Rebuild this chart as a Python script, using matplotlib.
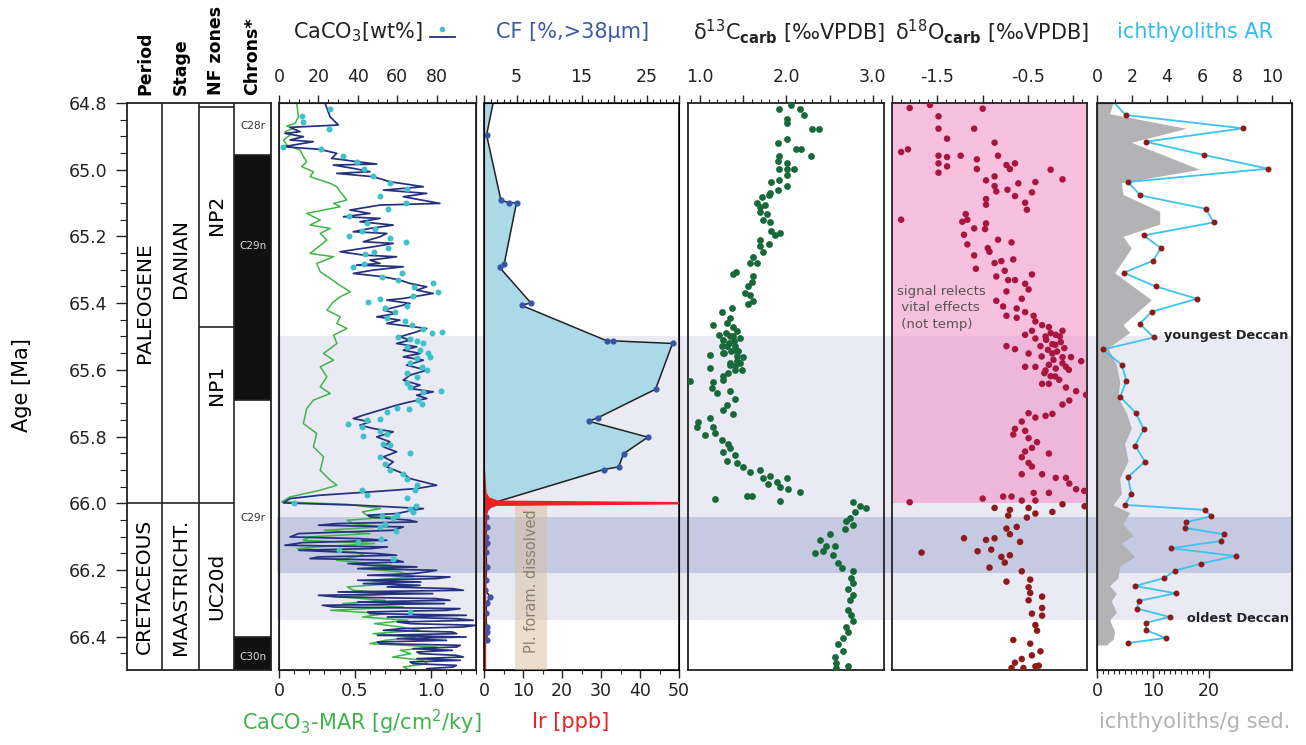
import numpy as np
import matplotlib.pyplot as plt
from matplotlib.ticker import FixedLocator, FixedFormatter
from matplotlib.lines import Line2D

plt.rcParams['font.family'] = ['DejaVu Sans']
plt.rcParams['mathtext.fontset'] = 'dejavusans'

W, H = 1306, 745
TOP, BOT = 103, 670
AGE_MIN, AGE_MAX = 64.8, 66.5

# ---------------- data (age [Ma], value) ----------------
# CaCO3 wt% high resolution (navy line)
navy = [(64.801, 23.4), (64.841, 25.9), (64.866, 30.1), (64.873, 5.6), (64.886, 10.7), (64.891, 3.0),
        (64.901, 12.4), (64.911, 5.6), (64.916, 17.4), (64.931, 2.2), (64.939, 20.8), (64.951, 29.3),
        (64.966, 26.7), (64.971, 33.5), (64.976, 39.4), (64.983, 49.6), (64.986, 27.6), (64.996, 37.7),
        (65.006, 46.2), (65.011, 29.3), (65.021, 47.9), (65.036, 56.3), (65.051, 73.3), (65.061, 53.0),
        (65.071, 75.0), (65.081, 63.1), (65.101, 81.7), (65.106, 51.3), (65.121, 36.0), (65.131, 46.2),
        (65.141, 32.7), (65.146, 51.3), (65.156, 41.1), (65.166, 58.0), (65.176, 46.2), (65.186, 37.7),
        (65.191, 54.7), (65.201, 51.3), (65.216, 42.8), (65.221, 58.0), (65.231, 47.9), (65.246, 31.0),
        (65.256, 42.8), (65.261, 59.7), (65.271, 46.2), (65.281, 51.3), (65.286, 39.4), (65.291, 63.1),
        (65.301, 47.9), (65.311, 37.7), (65.321, 53.0), (65.331, 61.4), (65.341, 66.5), (65.351, 75.0),
        (65.361, 69.9), (65.371, 78.3), (65.381, 68.2), (65.386, 63.1), (65.391, 54.7), (65.401, 66.5),
        (65.421, 53.0), (65.431, 59.7), (65.441, 49.6), (65.451, 61.4), (65.461, 54.7), (65.471, 68.2),
        (65.476, 75.0), (65.486, 69.9), (65.501, 61.4), (65.511, 66.5), (65.521, 59.7), (65.531, 69.9),
        (65.541, 63.1), (65.551, 71.6), (65.561, 63.1), (65.571, 73.3), (65.586, 64.8), (65.601, 75.0),
        (65.616, 66.5), (65.631, 63.1), (65.646, 71.6), (65.656, 66.5), (65.666, 78.3), (65.676, 69.9),
        (65.686, 75.0), (65.696, 66.5), (65.706, 59.7), (65.721, 51.3), (65.736, 42.8), (65.746, 37.7),
        (65.756, 46.2), (65.766, 41.1), (65.776, 47.9), (65.786, 58.0), (65.801, 49.6), (65.816, 56.3),
        (65.831, 53.0), (65.846, 59.7), (65.861, 53.0), (65.876, 58.0), (65.891, 54.7), (65.911, 63.1),
        (65.926, 66.5), (65.936, 73.3), (65.946, 80.0), (65.956, 69.9), (65.966, 46.2), (65.976, 20.8),
        (65.986, 5.6), (65.999, 2.2), (66.006, 40.0), (66.016, 73.3), (66.021, 68.0), (66.031, 59.7),
        (66.036, 45.0), (66.041, 46.2), (66.051, 66.5), (66.056, 70.0), (66.061, 29.3), (66.066, 20.0),
        (66.071, 63.1), (66.081, 58.0), (66.091, 10.0), (66.101, 5.6), (66.106, 40.0), (66.111, 54.7),
        (66.118, 12.0), (66.126, 3.0), (66.131, 55.0), (66.136, 46.2), (66.141, 10.0), (66.146, 29.3),
        (66.151, 50.0), (66.156, 59.7), (66.161, 20.0), (66.166, 15.7), (66.171, 60.0), (66.176, 63.1),
        (66.181, 35.0), (66.186, 46.2), (66.191, 70.0), (66.196, 40.0), (66.201, 80.0), (66.206, 75.0),
        (66.211, 68.2), (66.216, 45.0), (66.221, 86.8), (66.226, 80.0), (66.231, 40.0), (66.236, 72.0),
        (66.241, 42.8), (66.246, 71.6), (66.251, 55.0), (66.256, 88.0), (66.261, 93.6), (66.266, 30.0),
        (66.271, 78.0), (66.276, 20.0), (66.281, 29.3), (66.286, 80.0), (66.291, 86.8), (66.296, 40.0),
        (66.301, 84.0), (66.306, 22.0), (66.311, 27.6), (66.316, 91.9), (66.321, 85.0), (66.326, 45.0),
        (66.331, 46.2), (66.336, 95.0), (66.341, 55.0), (66.346, 90.0), (66.351, 98.6), (66.356, 60.0),
        (66.361, 66.5), (66.366, 100.0), (66.371, 93.6), (66.376, 62.0), (66.381, 53.0), (66.386, 88.0),
        (66.391, 90.2), (66.396, 50.0), (66.401, 95.0), (66.406, 60.0), (66.411, 85.0), (66.416, 50.0),
        (66.421, 51.3), (66.426, 92.0), (66.431, 90.2), (66.436, 68.0), (66.441, 88.0), (66.446, 70.0),
        (66.451, 71.6), (66.456, 90.0), (66.461, 93.6), (66.466, 70.0), (66.471, 92.0), (66.476, 66.5),
        (66.481, 68.0), (66.486, 90.0), (66.491, 88.5), (66.496, 75.0), (66.501, 76.6)]

# CaCO3 wt% discrete samples (cyan dots)
cyan = [(64.818, 25.9), (64.838, 11.8), (64.858, 12.4), (64.878, 25.5), (64.931, 2.2), (64.939, 21.2),
        (64.959, 32.7), (64.978, 39.8), (64.999, 43.3), (65.019, 47.9), (65.039, 56.3), (65.059, 64.8),
        (65.079, 51.3), (65.101, 64.5), (65.119, 55.5), (65.139, 35.7), (65.159, 44.5), (65.183, 42.0),
        (65.179, 48.7), (65.206, 56.3), (65.198, 35.7), (65.217, 64.5), (65.236, 55.5), (65.246, 48.2),
        (65.253, 43.7), (65.291, 37.7), (65.283, 43.3), (65.321, 52.1), (65.311, 62.3), (65.331, 60.4),
        (65.351, 68.7), (65.339, 78.3), (65.378, 68.2), (65.368, 80.5), (65.396, 45.0), (65.389, 51.3),
        (65.408, 64.8), (65.416, 53.8), (65.426, 58.9), (65.446, 54.7), (65.453, 64.0), (65.466, 67.3),
        (65.479, 73.3), (65.491, 77.5), (65.487, 82.6), (65.503, 60.4), (65.509, 66.5), (65.513, 69.9),
        (65.521, 73.3), (65.531, 64.8), (65.541, 71.6), (65.551, 75.8), (65.566, 69.9), (65.561, 76.6),
        (65.581, 66.5), (65.591, 72.4), (65.601, 75.0), (65.611, 64.8), (65.621, 69.9), (65.641, 64.8),
        (65.651, 66.5), (65.666, 73.3), (65.663, 82.1), (65.691, 70.7), (65.703, 72.4), (65.716, 66.2),
        (65.713, 59.7), (65.726, 54.7), (65.746, 51.3), (65.751, 44.5), (65.763, 35.2), (65.771, 42.0),
        (65.798, 42.8), (65.783, 51.3), (65.791, 54.7), (65.821, 53.0), (65.826, 56.3), (65.861, 51.3),
        (65.881, 53.8), (65.901, 56.3), (65.849, 66.5), (65.911, 63.1), (65.926, 64.8), (65.946, 69.9),
        (65.961, 69.0), (65.959, 42.0), (65.976, 44.8), (65.983, 64.8), (65.999, 7.6), (66.009, 69.4),
        (66.016, 66.5), (66.026, 67.9), (66.036, 59.7), (66.039, 52.1), (66.043, 58.0), (66.061, 53.8),
        (66.071, 51.3), (66.083, 59.4), (66.106, 51.6), (66.116, 40.3), (66.139, 30.6), (66.166, 57.7),
        (66.326, 66.5)]

# CaCO3 mass accumulation rate (green line)
mar = [(64.801, 0.117), (64.841, 0.128), (64.861, 0.106), (64.869, 0.051), (64.876, 0.095), (64.886, 0.040),
       (64.896, 0.073), (64.911, 0.029), (64.926, 0.051), (64.941, 0.139), (64.961, 0.161), (64.976, 0.183),
       (64.991, 0.150), (65.006, 0.227), (65.021, 0.205), (65.031, 0.272), (65.041, 0.338), (65.051, 0.382),
       (65.066, 0.404), (65.091, 0.448), (65.101, 0.360), (65.111, 0.404), (65.131, 0.183), (65.151, 0.272),
       (65.166, 0.205), (65.176, 0.338), (65.191, 0.272), (65.211, 0.316), (65.251, 0.205), (65.261, 0.360),
       (65.281, 0.249), (65.306, 0.272), (65.326, 0.338), (65.341, 0.382), (65.366, 0.470), (65.381, 0.404),
       (65.396, 0.360), (65.421, 0.316), (65.441, 0.404), (65.461, 0.382), (65.476, 0.448), (65.496, 0.360),
       (65.521, 0.382), (65.551, 0.294), (65.571, 0.360), (65.591, 0.272), (65.621, 0.316), (65.651, 0.272),
       (65.671, 0.338), (65.691, 0.227), (65.716, 0.183), (65.761, 0.161), (65.791, 0.249), (65.831, 0.227),
       (65.861, 0.294), (65.901, 0.272), (65.931, 0.338), (65.946, 0.382), (65.961, 0.272), (65.981, 0.073),
       (65.996, 0.018), (66.003, 0.45), (66.016, 0.67), (66.026, 0.55), (66.036, 0.58), (66.041, 0.74),
       (66.051, 0.45), (66.061, 0.49), (66.071, 0.67), (66.081, 0.30), (66.091, 0.60), (66.101, 0.20),
       (66.111, 0.16), (66.121, 0.63), (66.131, 0.25), (66.136, 0.12), (66.146, 0.50), (66.156, 0.56),
       (66.171, 0.38), (66.186, 0.74), (66.196, 0.55), (66.206, 0.80), (66.221, 0.89), (66.231, 0.60),
       (66.241, 0.75), (66.251, 0.45), (66.261, 0.49), (66.271, 0.80), (66.281, 0.40), (66.291, 0.70),
       (66.301, 0.42), (66.311, 0.82), (66.321, 0.34), (66.331, 0.70), (66.341, 0.55), (66.351, 0.85),
       (66.361, 0.63), (66.371, 0.80), (66.381, 0.93), (66.391, 0.62), (66.401, 0.90), (66.411, 0.70),
       (66.421, 0.60), (66.431, 1.04), (66.441, 0.80), (66.451, 0.87), (66.461, 0.75), (66.471, 0.95),
       (66.481, 0.98), (66.491, 0.82), (66.501, 0.87)]

# coarse fraction (CF %) and iridium
cf_age = [64.79, 64.896, 65.091, 65.099, 65.099, 65.283, 65.293, 65.399, 65.407, 65.513, 65.513, 65.521,
          65.658, 65.744, 65.754, 65.802, 65.851, 65.891, 65.899, 65.999, 66.01, 66.04, 66.07, 66.10,
          66.12, 66.146, 66.19, 66.23, 66.26, 66.28, 66.30, 66.33, 66.37, 66.385, 66.41]
cf_val = [1.5, 0.4, 2.6, 3.8, 5.0, 3.1, 2.4, 7.2, 5.8, 18.9, 19.8, 29.0,
          26.4, 17.5, 16.1, 25.2, 21.5, 20.7, 18.4, 1.4, 0.4, 0.3, 0.4, 0.3,
          0.5, 0.3, 0.4, 0.3, 0.2, 0.9, 0.4, 0.3, 0.4, 0.5, 0.4]
ir_age = [65.90, 65.97, 65.985, 65.995, 66.0, 66.005, 66.015, 66.04, 66.2, 66.5]
ir_val = [0.0, 0.4, 1.2, 3.5, 56.0, 3.0, 1.0, 0.4, 0.3, 0.3]

# d13C carb
d13c = [(64.817, 1.916), (64.806, 2.058), (64.817, 2.155), (64.837, 2.201), (64.849, 2.001), (64.860, 2.008),
        (64.877, 2.301), (64.877, 2.378), (64.907, 2.008), (64.919, 1.908), (64.939, 2.109), (64.939, 2.174),
        (64.958, 2.290), (64.958, 1.916), (64.975, 1.908), (64.981, 2.001), (64.998, 2.001), (64.998, 2.085),
        (64.998, 1.916), (65.015, 2.001), (65.032, 1.916), (65.037, 1.827), (65.049, 2.008), (65.060, 1.908),
        (65.071, 1.808), (65.082, 1.712), (65.077, 1.800), (65.099, 1.654), (65.111, 1.692), (65.105, 1.750),
        (65.128, 1.692), (65.133, 1.777), (65.150, 1.723), (65.156, 1.808), (65.184, 1.827), (65.190, 1.924),
        (65.195, 1.866), (65.212, 1.692), (65.229, 1.692), (65.224, 1.800), (65.246, 1.731), (65.263, 1.615),
        (65.280, 1.577), (65.280, 1.654), (65.308, 1.415), (65.314, 1.384), (65.320, 1.608), (65.337, 1.596),
        (65.348, 1.557), (65.370, 1.519), (65.376, 1.577), (65.393, 1.615), (65.404, 1.557), (65.416, 1.365),
        (65.427, 1.249), (65.444, 1.346), (65.466, 1.153), (65.461, 1.307), (65.472, 1.384), (65.495, 1.222),
        (65.500, 1.346), (65.483, 1.423), (65.512, 1.268), (65.506, 1.461), (65.529, 1.307), (65.540, 1.403),
        (65.551, 1.268), (65.563, 1.500), (65.574, 1.423), (65.585, 1.346), (65.602, 1.480), (65.557, 1.114),
        (65.596, 1.114), (65.602, 1.403), (65.619, 1.268), (65.636, 1.153), (65.653, 1.134), (65.630, 1.268),
        (65.664, 1.346), (65.670, 1.191), (65.687, 1.403), (65.704, 1.307), (65.721, 1.261), (65.732, 1.384),
        (65.743, 1.114), (65.755, 0.979), (65.771, 0.960), (65.771, 1.153), (65.794, 1.057), (65.788, 1.172),
        (65.811, 1.249), (65.822, 1.326), (65.845, 1.268), (65.834, 1.346), (65.856, 1.403), (65.873, 1.307),
        (65.879, 1.423), (65.890, 1.500), (65.907, 1.577), (65.901, 1.692), (65.924, 1.731), (65.918, 1.808),
        (65.941, 1.789), (65.935, 1.885), (65.952, 1.924), (65.924, 2.001), (65.958, 2.020), (65.992, 1.924),
        (65.967, 2.162), (65.978, 1.596), (65.978, 1.538), (65.986, 1.172), (65.633, 0.883),
        (65.490, 1.300), (65.500, 1.380), (65.520, 1.330), (65.530, 1.410), (65.545, 1.360), (65.550, 1.280),
        (65.560, 1.430), (65.580, 1.350), (65.590, 1.400), (65.610, 1.320), (65.580, 1.460), (65.530, 1.250),
        (65.515, 1.390), (65.545, 1.440),
        (65.997, 2.771), (66.009, 2.848), (66.014, 2.925), (66.026, 2.791), (66.043, 2.733), (66.054, 2.694),
        (66.065, 2.771), (66.076, 2.675), (66.093, 2.502), (66.110, 2.386), (66.127, 2.463), (66.127, 2.559),
        (66.144, 2.425), (66.148, 2.328), (66.156, 2.540), (66.178, 2.598), (66.193, 2.648), (66.204, 2.771),
        (66.223, 2.752), (66.240, 2.771), (66.257, 2.714), (66.274, 2.771), (66.291, 2.733), (66.319, 2.714),
        (66.336, 2.752), (66.353, 2.771), (66.370, 2.694), (66.387, 2.714), (66.404, 2.656), (66.421, 2.598),
        (66.444, 2.656), (66.461, 2.559), (66.478, 2.579), (66.489, 2.714), (66.494, 2.579)]

# d18O carb
d18o = [(64.815, -1.805), (64.806, -1.581), (64.817, -1.000), (64.840, -1.487), (64.877, -1.487), (64.877, -1.094),
        (64.907, -1.393), (64.919, -0.869), (64.947, -1.899), (64.939, -1.824), (64.958, -1.487), (64.962, -1.393),
        (64.958, -1.243), (64.969, -1.064), (64.958, -0.831), (64.981, -0.644), (64.986, -0.738), (64.998, -0.700),
        (64.981, -1.487), (64.990, -1.393), (65.009, -1.487), (64.998, -1.064), (65.000, -0.251), (65.029, -0.120),
        (65.032, -0.963), (65.020, -0.869), (65.041, -0.607), (65.037, -0.419), (65.049, -0.869), (65.065, -0.850),
        (65.060, -0.727), (65.079, -0.644), (65.068, -0.457), (65.088, -0.963), (65.105, -0.963), (65.099, -0.532),
        (65.120, -0.513), (65.150, -1.899), (65.133, -1.187), (65.150, -1.169), (65.156, -1.225), (65.161, -0.963),
        (65.178, -0.974), (65.176, -1.094), (65.195, -1.206), (65.224, -1.169), (65.210, -0.831), (65.218, -0.682),
        (65.235, -0.944), (65.246, -0.925), (65.257, -1.094), (65.280, -0.869), (65.274, -0.794), (65.269, -0.663),
        (65.303, -0.757), (65.297, -1.075), (65.320, -0.850), (65.331, -0.719), (65.331, -0.644), (65.314, -0.457),
        (65.342, -0.532), (65.365, -0.738), (65.359, -0.494), (65.387, -0.569), (65.393, -0.850), (65.410, -0.775),
        (65.416, -0.625), (65.427, -0.532), (65.438, -0.738), (65.444, -0.625), (65.438, -0.438), (65.455, -0.419),
        (65.466, -0.345), (65.472, -0.270), (65.483, -0.120), (65.483, -0.457), (65.506, -0.419), (65.500, -0.307),
        (65.495, -0.195), (65.495, -0.532), (65.529, -0.363), (65.523, -0.232), (65.517, -0.139), (65.529, -0.738),
        (65.538, -0.644), (65.551, -0.494), (65.551, -0.232), (65.562, -0.120), (65.562, -0.026), (65.574, 0.086),
        (65.591, -0.532), (65.591, -0.419), (65.602, -0.307), (65.596, -0.195), (65.591, -0.082), (65.619, -0.251),
        (65.630, -0.157), (65.642, -0.345), (65.642, -0.270), (65.653, -0.082), (65.664, 0.030), (65.675, 0.140),
        (65.692, -0.045), (65.704, -0.120), (65.732, -0.232), (65.738, -0.307), (65.730, -0.494), (65.743, -0.419),
        (65.755, -0.569), (65.777, -0.644), (65.794, -0.663), (65.783, -0.532), (65.805, -0.494), (65.817, -0.401),
        (65.834, -0.457), (65.845, -0.532), (65.851, -0.270), (65.862, -0.569), (65.879, -0.494), (65.890, -0.457),
        (65.913, -0.345), (65.913, -0.569), (65.924, -0.195), (65.924, -0.082), (65.941, -0.045), (65.958, 0.030),
        (65.963, 0.120), (65.969, -0.270), (65.969, -0.438), (65.992, -0.419), (65.992, -0.569), (65.980, -0.682),
        (65.980, -0.775), (65.986, -1.000), (65.997, -1.805),
        (65.490, -0.250), (65.500, -0.150), (65.510, -0.300), (65.525, -0.200), (65.535, -0.100), (65.540, -0.280),
        (65.545, -0.180), (65.560, -0.350), (65.570, -0.220), (65.580, -0.120), (65.585, -0.270), (65.600, -0.050),
        (65.610, -0.320), (65.620, -0.200),
        (66.003, -0.120), (66.009, 0.124), (66.026, -0.232), (66.014, -0.869), (66.020, -0.700), (66.014, -0.494),
        (66.031, -0.419), (66.043, -0.513), (66.037, -0.719), (66.076, -0.738), (66.093, -0.700), (66.071, -0.625),
        (66.116, -0.588), (66.105, -0.869), (66.110, -0.963), (66.105, -1.206), (66.144, -1.056), (66.139, -0.906),
        (66.161, -0.794), (66.156, -0.700), (66.148, -1.674), (66.178, -0.757), (66.193, -0.925), (66.204, -0.569),
        (66.235, -0.738), (66.229, -0.476), (66.252, -0.494), (66.269, -0.476), (66.280, -0.345), (66.291, -0.494),
        (66.331, -0.457), (66.314, -0.345), (66.337, -0.345), (66.365, -0.419), (66.382, -0.401), (66.410, -0.663),
        (66.421, -0.476), (66.444, -0.363), (66.456, -0.457), (66.467, -0.569), (66.478, -0.644), (66.494, -0.682),
        (66.494, -0.551), (66.489, -0.419), (66.487, -0.382)]

# ichthyolith accumulation rate and ichthyoliths per gram
ar_age = [64.800, 64.836, 64.876, 64.916, 64.956, 64.997, 65.037, 65.077, 65.117, 65.158, 65.197, 65.235,
          65.273, 65.309, 65.350, 65.387, 65.426, 65.462, 65.503, 65.539, 65.585, 65.633, 65.681, 65.729,
          65.778, 65.827, 65.875, 65.922, 65.971, 66.005, 66.020, 66.039, 66.057, 66.074, 66.093, 66.113,
          66.135, 66.158, 66.181, 66.202, 66.225, 66.248, 66.270, 66.293, 66.316, 66.341, 66.359, 66.381,
          66.404, 66.419]
ar_val = [1.0, 1.64, 8.34, 2.78, 6.13, 9.77, 1.77, 2.48, 6.21, 6.67, 2.67, 3.64,
          3.20, 1.52, 3.35, 5.71, 3.12, 2.44, 3.24, 0.34, 1.41, 1.68, 1.33, 2.21,
          2.67, 2.17, 2.74, 1.77, 1.96, 1.60, 6.17, 6.53, 5.07, 5.01, 7.24, 7.09,
          4.23, 7.92, 5.94, 4.46, 3.81, 2.17, 4.50, 2.38, 2.29, 4.15, 2.78, 2.82,
          3.92, 1.79]
ich_age = [64.800, 64.832, 64.876, 64.918, 64.999, 65.039, 65.074, 65.125, 65.163, 65.200, 65.235, 65.309,
           65.390, 65.465, 65.488, 65.534, 65.585, 65.637, 65.683, 65.729, 65.775, 65.821, 65.873, 65.925,
           65.971, 66.005, 66.028, 66.063, 66.097, 66.120, 66.160, 66.189, 66.224, 66.247, 66.270, 66.293,
           66.327, 66.350, 66.385, 66.408, 66.425]
ich_val = [2.86, 2.26, 15.95, 6.13, 18.33, 4.35, 4.64, 11.19, 11.19, 4.64, 6.13, 3.15,
           9.70, 4.64, 5.83, 1.96, 3.45, 4.05, 3.75, 5.24, 6.13, 4.94, 5.54, 4.05,
           4.35, 2.86, 5.83, 4.64, 6.43, 4.35, 6.73, 4.05, 3.75, 2.26, 3.45, 2.56,
           3.45, 2.26, 3.15, 2.86, 1.67]

# stratigraphy
period_names = ['PALEOGENE', 'CRETACEOUS']
period_label_age = [65.40, 66.25]
stage_names = ['DANIAN', 'MAASTRICHT.']
stage_label_age = [65.265, 66.25]
kpg = 66.0
nf_bounds = [64.8, 64.812, 65.472, 66.0, 66.5]
nf_names = ['NP2', 'NP1', 'UC20d']
nf_label_age = [65.136, 65.646, 66.25]
chron_bounds = [64.8, 64.956, 65.69, 66.40, 66.5]
chron_pol = ['r', 'n', 'r', 'n']
chron_names = ['C28r', 'C29n', 'C29r', 'C30n']
chron_label_age = [64.87, 65.23, 66.045, 66.46]

light_band = (65.50, 66.35)
dark_band = (66.04, 66.21)
pink_zone = (64.8, 66.0)
dissolved_ir = (8.0, 16.2)

# ---------------- figure ----------------
fig = plt.figure(figsize=(W / 100, H / 100), dpi=100)


def rect(x0, x1):
    return [x0 / W, 1 - BOT / H, (x1 - x0) / W, (BOT - TOP) / H]


def frame(ax):
    for s in ax.spines.values():
        s.set_linewidth(1.3)
        s.set_color('#222222')


def xticks(ax, majors, labels, minors, side):
    ax.xaxis.set_major_locator(FixedLocator(majors))
    ax.xaxis.set_major_formatter(FixedFormatter(labels))
    ax.xaxis.set_minor_locator(FixedLocator(minors))
    ax.xaxis.set_ticks_position(side)
    ax.tick_params(axis='x', which='both', direction='out', colors='#222222', labelsize=12.5)
    ax.tick_params(axis='x', which='major', length=6, width=1.0, pad=6 if side == 'top' else 3)
    ax.tick_params(axis='x', which='minor', length=3, width=0.8)
    ax.tick_params(axis='y', which='both', left=False, right=False, labelleft=False, labelright=False)


def panel(x0, x1):
    ax = fig.add_axes(rect(x0, x1))
    ax.set_ylim(AGE_MAX, AGE_MIN)
    ax.patch.set_visible(False)
    frame(ax)
    return ax


# background bands
bg = fig.add_axes(rect(277, 1292))
bg.set_xlim(0, 1)
bg.set_ylim(AGE_MAX, AGE_MIN)
bg.axis('off')
bg.set_zorder(0)
bg.axhspan(*light_band, color='#e9eaf3', lw=0)
bg.axhspan(*dark_band, color='#c6c9e2', lw=0)

# stratigraphic column
st = fig.add_axes(rect(127, 271))
st.set_zorder(1)
st.set_xlim(0, 144)
st.set_ylim(AGE_MAX, AGE_MIN)
frame(st)
for x in [35, 72, 107]:
    st.axvline(x, color='#222222', lw=1.2)
st.hlines(kpg, 0, 72, color='#222222', lw=1.2)
for b in nf_bounds[1:-1]:
    st.hlines(b, 72, 107, color='#222222', lw=1.2)
for a0, a1, pol in zip(chron_bounds[:-1], chron_bounds[1:], chron_pol):
    if pol == 'n':
        st.fill_betweenx([a0, a1], 107, 144, color='#111111', lw=0)
for b in chron_bounds[1:-1]:
    st.hlines(b, 107, 144, color='#222222', lw=1.2)
for name, a in zip(period_names, period_label_age):
    st.text(17.5, a, name, rotation=90, ha='center', va='center', fontsize=14.5)
for name, a in zip(stage_names, stage_label_age):
    st.text(53.5, a, name, rotation=90, ha='center', va='center', fontsize=14.5)
for name, a in zip(nf_names, nf_label_age):
    st.text(89.5, a, name, rotation=90, ha='center', va='center', fontsize=14.5)
for name, a, pol in zip(chron_names, chron_label_age, chron_pol):
    st.text(125.5, a, name, ha='center', va='center', fontsize=7.5,
            color='#d8d8d8' if pol == 'n' else '#333333')
st.set_xticks([])
st.yaxis.set_major_locator(FixedLocator(np.arange(64.8, 66.45, 0.2)))
st.yaxis.set_minor_locator(FixedLocator(np.arange(64.85, 66.46, 0.05)))
st.yaxis.set_major_formatter(FixedFormatter(['%.1f' % v for v in np.arange(64.8, 66.45, 0.2)]))
st.tick_params(axis='y', which='both', direction='out', colors='#222222', labelsize=12.5)
st.tick_params(axis='y', which='major', length=8, width=1.0, pad=6)
st.tick_params(axis='y', which='minor', length=5, width=0.8)

for x, name in zip([145, 181, 216, 252], ['Period', 'Stage', 'NF zones', 'Chrons*']):
    fig.text(x / W, 1 - 95 / H, name, rotation=90, ha='center', va='bottom',
             fontsize=12.5, fontweight='bold')
fig.text(22 / W, 1 - 385 / H, 'Age [Ma]', rotation=90, ha='center', va='center', fontsize=15)

# panel 1: CaCO3 wt% and MAR
ax1 = panel(279, 476)
ax1.set_xlim(0, 100)
ax1b = ax1.twiny()
ax1b.patch.set_visible(False)
ax1b.set_xlim(0, 1.3)
ax1b.set_zorder(2)
ax1.set_zorder(3)
ma, mv = zip(*mar)
ax1b.plot(mv, ma, color='#3fb54a', lw=1.1)
na, nv = zip(*navy)
ax1.plot(nv, na, color='#25307f', lw=1.25)
ca, cv = zip(*cyan)
ax1.plot(cv, ca, 'o', ms=4.3, color='#3ec1c9', mec='none')
xticks(ax1, [0, 20, 40, 60, 80, 100], ['0', '20', '40', '60', '80', ''], np.arange(0, 101, 5), 'top')
xticks(ax1b, [0, 0.5, 1.0], ['0', '0.5', '1.0'], np.arange(0, 1.31, 0.1), 'bottom')

# panel 2: coarse fraction and Ir
ax2 = panel(484, 679)
ax2.set_xlim(0, 30)
ax2b = ax2.twiny()
ax2b.patch.set_visible(False)
ax2b.set_xlim(0, 50)
ax2.set_zorder(2)
ax2b.set_zorder(3)
n_fill = cf_age.index(65.999) + 1
ax2.fill_betweenx(cf_age[:n_fill], 0, cf_val[:n_fill], color='#acd9e7', lw=0)
ax2.plot(cf_val, cf_age, color='#222222', lw=1.1)
ax2.plot(cf_val[1:], cf_age[1:], 'o', ms=4.5, color='#3656a8', mec='none')
ax2b.fill_betweenx([kpg, AGE_MAX], dissolved_ir[0], dissolved_ir[1], color='#d9bfa0', alpha=0.5, lw=0)
ax2b.text(sum(dissolved_ir) / 2, 66.234, 'Pl. foram. dissolved', rotation=90, ha='center', va='center',
          fontsize=10.5, color='#8f7d6b')
ax2b.fill_betweenx(ir_age, 0, ir_val, color='#ee2024', lw=0)
ax2b.plot(ir_val, ir_age, color='#ee2024', lw=1.5)
xticks(ax2, np.arange(0, 31, 5), ['', '5', '', '15', '', '25', ''], np.arange(0, 31, 1), 'top')
xticks(ax2b, np.arange(0, 51, 10), ['0', '10', '20', '30', '40', '50'], np.arange(0, 51, 5), 'bottom')

# panel 3: d13C
ax3 = panel(688, 884)
ax3.set_xlim(0.86, 3.13)
ca3, cv3 = zip(*d13c)
ax3.scatter(cv3, ca3, s=24, color='#17693a', lw=0, zorder=3)
xticks(ax3, [1.0, 1.5, 2.0, 2.5, 3.0], ['1.0', '', '2.0', '', '3.0'], np.arange(0.9, 3.13, 0.1), 'top')

# panel 4: d18O
ax4 = panel(892, 1087)
ax4.set_xlim(-2.0, 0.15)
ax4.axhspan(*pink_zone, color=(0.954, 0.59, 0.784), alpha=0.6, lw=0)
oa, ov = zip(*d18o)
oa = np.array(oa)
ov = np.array(ov)
ocol = np.where(oa < kpg, '#a8163f', '#8e1b1b')
ax4.scatter(ov, oa, s=22, c=ocol, lw=0, zorder=3)
ax4.text(-1.95, 65.345, 'signal relects\n vital effects\n (not temp)', ha='left', va='top',
         fontsize=9.5, color='#555555', linespacing=1.35)
xticks(ax4, [-2.0, -1.5, -1.0, -0.5, 0.0], ['', '-1.5', '', '-0.5', ''], np.arange(-2.0, 0.16, 0.1), 'top')

# panel 5: ichthyoliths
ax5 = panel(1097, 1292)
ax5.set_xlim(0, 11.14)
ax5b = ax5.twiny()
ax5b.patch.set_visible(False)
ax5b.set_xlim(0, 34.8)
ax5b.set_zorder(2)
ax5.set_zorder(3)
ax5b.fill_betweenx(ich_age, 0, ich_val, color='#b3b3b5', lw=0)
ax5.plot(ar_val, ar_age, color='#3cc3f0', lw=1.3)
ax5.plot(ar_val[1:], ar_age[1:], 'o', ms=4.3, color='#8e1b1b', mec='none')
ax5.text(3.83, 65.496, 'youngest Deccan', ha='left', va='center', fontsize=9.3, fontweight='bold', color='#222222')
ax5.text(5.14, 66.345, 'oldest Deccan', ha='left', va='center', fontsize=9.3, fontweight='bold', color='#222222')
xticks(ax5, np.arange(0, 11, 2), ['0', '2', '4', '6', '8', '10'], np.arange(0, 11.1, 1), 'top')
xticks(ax5b, [0, 10, 20], ['0', '10', '20'], np.arange(0, 20.1, 1), 'bottom')

# titles
ty = 1 - 32 / H
fig.text(293 / W, ty, 'CaCO$_3$[wt%]', ha='left', va='center', fontsize=15, color='#222222')
fig.add_artist(Line2D([430 / W, 455 / W], [1 - 37 / H] * 2, color='#25307f', lw=1.3))
fig.add_artist(Line2D([442 / W], [1 - 29 / H], marker='o', ms=4, color='#3ec1c9', mec='none'))
fig.text(573 / W, ty, 'CF [%,>38μm]', ha='center', va='center', fontsize=15, color='#3a5aa8')
fig.text(789 / W, ty, r'δ$^{13}$C$_{\mathbf{carb}}$ [‰VPDB]', ha='center', va='center', fontsize=15, color='#222222')
fig.text(992 / W, ty, r'δ$^{18}$O$_{\mathbf{carb}}$ [‰VPDB]', ha='center', va='center', fontsize=15, color='#222222')
fig.text(1195 / W, ty, 'ichthyoliths AR', ha='center', va='center', fontsize=15, color='#33bdf0')

by = 1 - 722 / H
fig.text(362 / W, by, 'CaCO$_3$-MAR [g/cm$^2$/ky]', ha='center', va='center', fontsize=15, color='#3cb44b')
fig.text(571 / W, by, 'Ir [ppb]', ha='center', va='center', fontsize=15, color='#ee2024')
fig.text(1195 / W, by, 'ichthyoliths/g sed.', ha='center', va='center', fontsize=15, color='#b3b3b3')

fig.savefig('out.png', dpi=100)
